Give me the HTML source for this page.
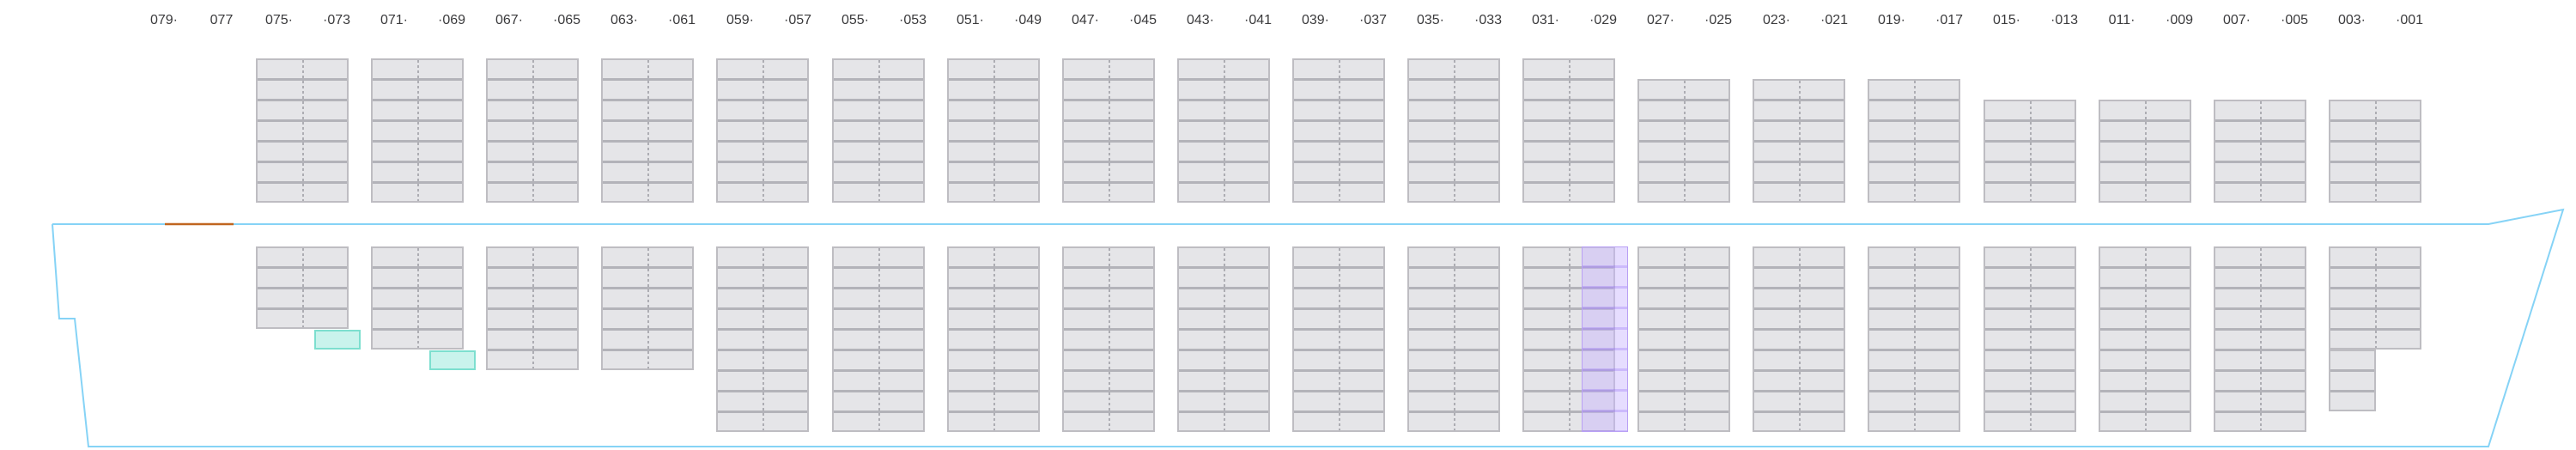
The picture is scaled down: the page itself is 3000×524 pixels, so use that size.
<!DOCTYPE html>
<html><head><meta charset="utf-8"><style>
html,body{margin:0;padding:0;background:#fff;}
body{width:3000px;height:524px;position:relative;overflow:hidden;font-family:"Liberation Sans",sans-serif;}
.b{position:absolute;width:108px;box-sizing:border-box;border:2px solid #bebdc2;
background:
linear-gradient(to bottom,#adadb3 50%,transparent 50%) 52px 0/1.5px 6px repeat-y,
repeating-linear-gradient(to bottom,#e5e5e8 0 21px,#b3b3b9 21px 24px);}
.h{position:absolute;width:55px;box-sizing:border-box;border:2px solid #bebdc2;
background:repeating-linear-gradient(to bottom,#e5e5e8 0 21px,#b3b3b9 21px 24px);}
.t{position:absolute;width:54px;height:23px;box-sizing:border-box;border:2px solid #7ddfcf;background:#c9f3ec;}
svg{position:absolute;left:0;top:0;}
</style></head><body>
<svg width="3000" height="524">
<polyline points="61,261 69,371 87,371 103,520 2898,520 2985,244 2898,261 61,261" fill="none" stroke="#86d3f6" stroke-width="2"/>
<line x1="192" y1="261" x2="272" y2="261" stroke="#c0651f" stroke-width="2.5"/>
<g font-size="16" fill="#3a3a3c" text-anchor="middle" font-family="Liberation Sans, sans-serif">
<text x="191" y="28">079·</text><text x="258" y="28">077</text>
<text x="325" y="28">075·</text><text x="392" y="28">·073</text>
<text x="459" y="28">071·</text><text x="526" y="28">·069</text>
<text x="593" y="28">067·</text><text x="660" y="28">·065</text>
<text x="727" y="28">063·</text><text x="794" y="28">·061</text>
<text x="862" y="28">059·</text><text x="929" y="28">·057</text>
<text x="996" y="28">055·</text><text x="1063" y="28">·053</text>
<text x="1130" y="28">051·</text><text x="1197" y="28">·049</text>
<text x="1264" y="28">047·</text><text x="1331" y="28">·045</text>
<text x="1398" y="28">043·</text><text x="1465" y="28">·041</text>
<text x="1532" y="28">039·</text><text x="1599" y="28">·037</text>
<text x="1666" y="28">035·</text><text x="1733" y="28">·033</text>
<text x="1800" y="28">031·</text><text x="1867" y="28">·029</text>
<text x="1934" y="28">027·</text><text x="2001" y="28">·025</text>
<text x="2069" y="28">023·</text><text x="2136" y="28">·021</text>
<text x="2203" y="28">019·</text><text x="2270" y="28">·017</text>
<text x="2337" y="28">015·</text><text x="2404" y="28">·013</text>
<text x="2471" y="28">011·</text><text x="2538" y="28">·009</text>
<text x="2605" y="28">007·</text><text x="2672" y="28">·005</text>
<text x="2739" y="28">003·</text><text x="2806" y="28">·001</text>
</g>
</svg>
<div class="b" style="left:298px;top:68px;height:168px"></div>
<div class="b" style="left:432px;top:68px;height:168px"></div>
<div class="b" style="left:566px;top:68px;height:168px"></div>
<div class="b" style="left:700px;top:68px;height:168px"></div>
<div class="b" style="left:834px;top:68px;height:168px"></div>
<div class="b" style="left:969px;top:68px;height:168px"></div>
<div class="b" style="left:1103px;top:68px;height:168px"></div>
<div class="b" style="left:1237px;top:68px;height:168px"></div>
<div class="b" style="left:1371px;top:68px;height:168px"></div>
<div class="b" style="left:1505px;top:68px;height:168px"></div>
<div class="b" style="left:1639px;top:68px;height:168px"></div>
<div class="b" style="left:1773px;top:68px;height:168px"></div>
<div class="b" style="left:1907px;top:92px;height:144px"></div>
<div class="b" style="left:2041px;top:92px;height:144px"></div>
<div class="b" style="left:2175px;top:92px;height:144px"></div>
<div class="b" style="left:2310px;top:116px;height:120px"></div>
<div class="b" style="left:2444px;top:116px;height:120px"></div>
<div class="b" style="left:2578px;top:116px;height:120px"></div>
<div class="b" style="left:2712px;top:116px;height:120px"></div>
<div class="b" style="left:298px;top:287px;height:96px"></div>
<div class="b" style="left:432px;top:287px;height:120px"></div>
<div class="b" style="left:566px;top:287px;height:144px"></div>
<div class="b" style="left:700px;top:287px;height:144px"></div>
<div class="b" style="left:834px;top:287px;height:216px"></div>
<div class="b" style="left:969px;top:287px;height:216px"></div>
<div class="b" style="left:1103px;top:287px;height:216px"></div>
<div class="b" style="left:1237px;top:287px;height:216px"></div>
<div class="b" style="left:1371px;top:287px;height:216px"></div>
<div class="b" style="left:1505px;top:287px;height:216px"></div>
<div class="b" style="left:1639px;top:287px;height:216px"></div>
<div class="b" style="left:1773px;top:287px;height:216px"></div>
<div class="b" style="left:1907px;top:287px;height:216px"></div>
<div class="b" style="left:2041px;top:287px;height:216px"></div>
<div class="b" style="left:2175px;top:287px;height:216px"></div>
<div class="b" style="left:2310px;top:287px;height:216px"></div>
<div class="b" style="left:2444px;top:287px;height:216px"></div>
<div class="b" style="left:2578px;top:287px;height:216px"></div>
<div class="b" style="left:2712px;top:287px;height:120px"></div>
<div class="h" style="left:2712px;top:407px;height:72px"></div>
<div class="t" style="left:366px;top:384px"></div>
<div class="t" style="left:500px;top:408px"></div>
<div style="position:absolute;left:1842px;top:287px;width:54px;height:216px;box-sizing:border-box;border:1.5px solid #b9a0f5;background:repeating-linear-gradient(to bottom,rgba(200,180,255,0.45) 0 21px,rgba(170,140,250,0.6) 21px 24px);"></div>
</body></html>
